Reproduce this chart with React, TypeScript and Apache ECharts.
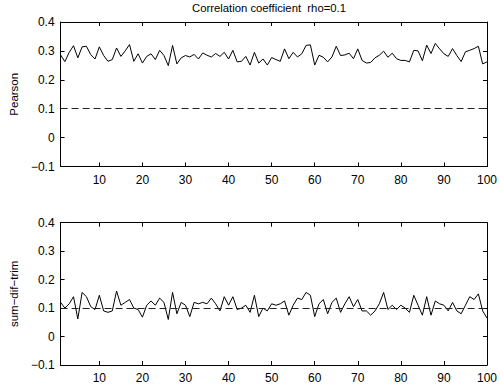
import React, { useEffect, useRef } from "react";
import * as echarts from "echarts";

const titleText = "Correlation coefficient  rho=0.1";
const topName = "Pearson";
const bottomName = "sum\u2212dif\u2212trim";
const xTicks = [10, 20, 30, 40, 50, 60, 70, 80, 90, 100];
const referenceValue = 0.1;

const pearson = [
  0.286, 0.263, 0.295, 0.318, 0.276, 0.314, 0.316, 0.287, 0.272, 0.314,
  0.284, 0.264, 0.27, 0.31, 0.281, 0.3, 0.322, 0.264, 0.29, 0.258,
  0.281, 0.29, 0.27, 0.302, 0.284, 0.249, 0.319, 0.255, 0.276, 0.284,
  0.279, 0.288, 0.272, 0.293, 0.285, 0.279, 0.291, 0.281, 0.295, 0.272,
  0.302, 0.262, 0.264, 0.281, 0.251, 0.295, 0.258, 0.272, 0.251, 0.277,
  0.27, 0.264, 0.307, 0.273, 0.295, 0.279, 0.29, 0.319, 0.321, 0.251,
  0.285, 0.278, 0.262, 0.279, 0.316, 0.284, 0.286, 0.292, 0.273, 0.307,
  0.267, 0.258, 0.26, 0.276, 0.285, 0.299, 0.278, 0.292, 0.273, 0.267,
  0.267, 0.262, 0.302, 0.3, 0.266, 0.32, 0.291, 0.326, 0.307, 0.29,
  0.281, 0.308, 0.284, 0.263, 0.297, 0.302, 0.308, 0.316, 0.255, 0.262,
];

const sumDifTrim = [
  0.12, 0.1, 0.115, 0.14, 0.062, 0.155, 0.14, 0.105, 0.095, 0.145,
  0.09, 0.085, 0.09, 0.16, 0.11, 0.12, 0.13, 0.1, 0.095, 0.068,
  0.11, 0.125, 0.11, 0.135, 0.12, 0.06, 0.155, 0.08, 0.12, 0.11,
  0.07, 0.12, 0.115, 0.12, 0.115, 0.135, 0.115, 0.09, 0.14, 0.11,
  0.14, 0.095, 0.1, 0.11, 0.085, 0.145, 0.07, 0.1, 0.09, 0.115,
  0.11, 0.115, 0.125, 0.075, 0.11, 0.135, 0.13, 0.155, 0.145, 0.07,
  0.115, 0.13, 0.08, 0.12, 0.135, 0.085, 0.115, 0.14, 0.105, 0.13,
  0.09, 0.09, 0.075, 0.09, 0.115, 0.155, 0.095, 0.11, 0.095, 0.11,
  0.1, 0.085, 0.145, 0.11, 0.075, 0.14, 0.075, 0.125, 0.115, 0.11,
  0.09, 0.12, 0.09, 0.08, 0.11, 0.14, 0.13, 0.15, 0.09, 0.065,
];

const FONT = "'Liberation Sans', Arial, Helvetica, sans-serif";

function fmtY(v: number): string {
  if (Math.abs(v) < 1e-9) return "0";
  const s = v.toFixed(1);
  return s.startsWith("-") ? "\u2212" + s.slice(1) : s;
}

export default function App() {
  const ref = useRef<HTMLDivElement>(null);
  useEffect(() => {
    if (!ref.current) return;
    const chart = echarts.init(ref.current, null, { renderer: "svg" });
    const grids = [
      { left: 49, right: 11, top: 22, height: 144.5 },
      { left: 49, right: 11, top: 222.7, height: 144.3 },
    ];
    const xAxes: any[] = [];
    const yAxes: any[] = [];
    [0, 1].forEach((g) => {
      xAxes.push({
        type: "value",
        gridIndex: g,
        position: "bottom",
        min: 1,
        max: 100,
        axisLine: { show: true, onZero: false, lineStyle: { color: "#000", width: 1 } },
        axisTick: { show: true, inside: true, length: 4, customValues: xTicks, lineStyle: { color: "#000" } },
        axisLabel: { show: true, customValues: xTicks, color: "#000", fontFamily: FONT, fontSize: 12, margin: 7 },
        splitLine: { show: false },
      });
      xAxes.push({
        type: "value",
        gridIndex: g,
        position: "top",
        min: 1,
        max: 100,
        axisLine: { show: true, onZero: false, lineStyle: { color: "#000", width: 1 } },
        axisTick: { show: true, inside: true, length: 4, customValues: xTicks, lineStyle: { color: "#000" } },
        axisLabel: { show: false },
        splitLine: { show: false },
      });
      yAxes.push({
        type: "value",
        gridIndex: g,
        position: "left",
        min: -0.1,
        max: 0.4,
        interval: 0.1,
        name: g === 0 ? topName : bottomName,
        nameLocation: "middle",
        nameRotate: 90,
        nameGap: 36,
        nameTextStyle: { color: "#000", fontFamily: FONT, fontSize: 11.5 },
        axisLine: { show: true, onZero: false, lineStyle: { color: "#000", width: 1 } },
        axisTick: { show: true, inside: true, length: 4, lineStyle: { color: "#000" } },
        axisLabel: { show: true, color: "#000", fontFamily: FONT, fontSize: 12, margin: 6, formatter: fmtY },
        splitLine: { show: false },
      });
      yAxes.push({
        type: "value",
        gridIndex: g,
        position: "right",
        min: -0.1,
        max: 0.4,
        interval: 0.1,
        axisLine: { show: true, onZero: false, lineStyle: { color: "#000", width: 1 } },
        axisTick: { show: true, inside: true, length: 4, lineStyle: { color: "#000" } },
        axisLabel: { show: false },
        splitLine: { show: false },
      });
    });

    const mkSeries = (vals: number[], g: number) => ({
      type: "line",
      xAxisIndex: g * 2,
      yAxisIndex: g * 2,
      data: vals.map((v, i) => [i + 1, v]),
      showSymbol: false,
      symbol: "none",
      lineStyle: { color: "#000", width: 1 },
      silent: true,
      markLine: {
        silent: true,
        symbol: "none",
        label: { show: false },
        lineStyle: { color: "#222", width: 1, type: [7, 4] },
        data: [{ yAxis: referenceValue }],
      },
    });

    chart.setOption({
      animation: false,
      backgroundColor: "#fff",
      grid: grids,
      xAxis: xAxes,
      yAxis: yAxes,
      graphic: [
        {
          type: "text",
          x: 269,
          y: 8,
          style: {
            text: titleText,
            textAlign: "center",
            textVerticalAlign: "middle",
            fontFamily: FONT,
            fontSize: 11.3,
            fill: "#000",
          },
        },
      ],
      series: [mkSeries(pearson, 0), mkSeries(sumDifTrim, 1)],
    });
    return () => chart.dispose();
  }, []);
  return (
    <div
      ref={ref}
      style={{ position: "fixed", left: 0, top: 0, width: 500, height: 384 }}
    />
  );
}
